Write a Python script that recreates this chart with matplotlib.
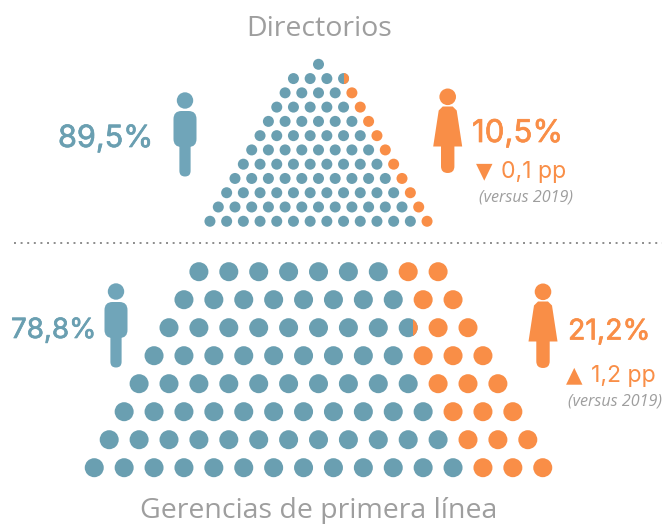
import matplotlib
matplotlib.use("Agg")
import matplotlib.pyplot as plt
import matplotlib.patheffects as pe
from matplotlib.patches import Circle, FancyBboxPatch, Polygon, Rectangle

BLUE = "#6A9FB1"
ICON_BLUE = "#70A5B9"
ORANGE = "#F98E47"
GRAY = "#9E9E9E"

# dots per row, and how many of them are orange (the split dot is counted apart)
top_rows = [1, 4, 5, 6, 7, 8, 9, 10, 11, 12, 13, 14]
top_orange = [0, 0, 1, 1, 1, 1, 1, 1, 1, 1, 1, 1]
top_split = [0, 0.5, 0, 0, 0, 0, 0, 0, 0, 0, 0, 0]
low_rows = [9, 10, 11, 12, 13, 14, 15, 16]
low_orange = [2, 2, 2, 3, 3, 3, 3, 3]
low_split = [0, 0, 0.25, 0, 0, 0, 0, 0]

titles = ["Directorios", "Gerencias de primera línea"]
share_men = ["89,5%", "78,8%"]
share_women = ["10,5%", "21,2%"]
changes = ["0,1 pp", "1,2 pp"]
arrows = ["▼", "▲"]
versus = "(versus 2019)"

fig = plt.figure(figsize=(6.65, 5.24), dpi=100)
ax = fig.add_axes([0, 0, 1, 1])
ax.set_xlim(0, 665)
ax.set_ylim(524, 0)
ax.axis("off")


def pyramid(rows, orange, split, cx, y0, dx, dy, r):
    for i, n in enumerate(rows):
        y = y0 + i * dy
        x0 = cx - (n - 1) * dx / 2
        for j in range(n):
            x = x0 + j * dx
            from_end = n - j
            col = ORANGE if from_end <= orange[i] else BLUE
            ax.add_patch(Circle((x, y), r, fc=col, ec="none"))
            if split[i] and from_end == orange[i] + 1:
                # partly orange dot: right-hand share drawn over the blue one
                c = Circle((x, y), r, fc=ORANGE, ec="none")
                ax.add_patch(c)
                w = 2 * r * split[i]
                c.set_clip_path(Rectangle((x + r - w, y - r), w, 2 * r, transform=ax.transData))


def man(cx, top):
    ax.add_patch(Circle((cx, top + 8), 8.2, fc=ICON_BLUE, ec="none"))
    ax.add_patch(FancyBboxPatch((cx - 11.5, top + 18.5), 23, 36,
                                boxstyle="round,pad=0,rounding_size=8", fc=ICON_BLUE, ec="none"))
    ax.add_patch(FancyBboxPatch((cx - 5.6, top + 40), 11.2, 44,
                                boxstyle="round,pad=0,rounding_size=5.6", fc=ICON_BLUE, ec="none"))


def woman(cx, top):
    ax.add_patch(Circle((cx, top + 8.3), 8.3, fc=ORANGE, ec="none"))
    ax.add_patch(Polygon([(cx - 9, top + 22), (cx - 5, top + 18), (cx + 5, top + 18), (cx + 9, top + 22),
                          (cx + 14.5, top + 58), (cx - 14.5, top + 58)], fc=ORANGE, ec="none"))
    ax.add_patch(FancyBboxPatch((cx - 6.7, top + 50), 13.4, 34.5,
                                boxstyle="round,pad=0,rounding_size=6.7", fc=ORANGE, ec="none"))


pyramid(top_rows, top_orange, top_split, 318.5, 64.3, 16.7, 14.27, 5.5)
pyramid(low_rows, low_orange, low_split, 318.5, 271.7, 29.9, 28, 9.5)

man(185, 92.5)
man(116, 283.5)
woman(447.7, 88.5)
woman(543, 283.5)

ax.plot([14, 662], [243, 243], color="#8C8C8C", lw=1.4, ls=(0, (1, 2.4)))

heavy = [pe.withStroke(linewidth=0.5, foreground=BLUE)]
heavy_o = [pe.withStroke(linewidth=0.5, foreground=ORANGE)]
num = dict(family="Inter", va="center")
sub = dict(family="Inter", va="center", fontsize=16.6, color=ORANGE)
note = dict(family="Open Sans", style="italic", va="center", fontsize=11.6, color=GRAY)

ax.text(319, 29, titles[0], family="Open Sans", ha="center", va="center", fontsize=20.5, color=GRAY)
ax.text(318.5, 511, titles[1], family="Open Sans", ha="center", va="center", fontsize=20.5, color=GRAY)

ax.text(58, 139, share_men[0], color=BLUE, fontsize=22, path_effects=heavy, **num)
ax.text(11, 331, share_men[1], color=BLUE, fontsize=20, path_effects=heavy, **num)
ax.text(472, 134, share_women[0], color=ORANGE, fontsize=22.5, path_effects=heavy_o, **num)
ax.text(568, 332, share_women[1], color=ORANGE, fontsize=20.5, path_effects=heavy_o, **num)

ax.text(476, 171, arrows[0], family="DejaVu Sans", va="center", fontsize=15.5, color=ORANGE)
ax.text(501, 172, changes[0], **sub)
ax.text(566, 375, arrows[1], family="DejaVu Sans", va="center", fontsize=15.5, color=ORANGE)
ax.text(591, 376, changes[1], **sub)
ax.text(479, 198, versus, **note)
ax.text(568, 401, versus, **note)

fig.savefig("out.png", dpi=100)
